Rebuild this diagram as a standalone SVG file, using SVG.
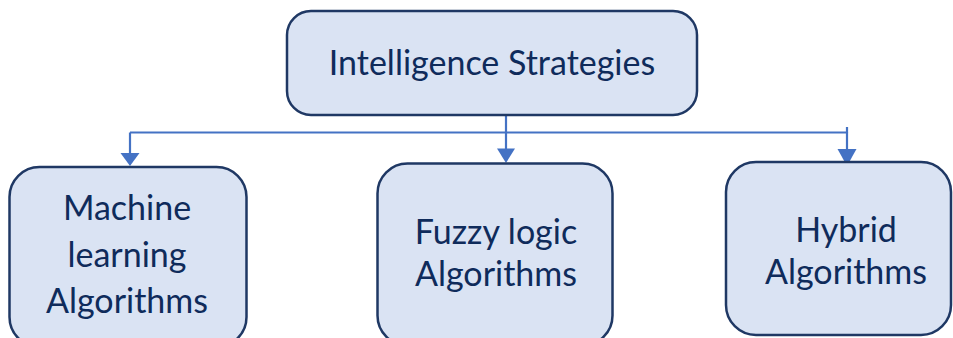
<svg xmlns="http://www.w3.org/2000/svg" width="953" height="338" viewBox="0 0 953 338">
<defs>
<style>
.box{fill:#DAE3F3;stroke:#1F3864;stroke-width:2.5}
.t{font-family:Lato,"Liberation Sans",sans-serif;font-size:34px;fill:#0F2B5B;text-anchor:middle}
.c{fill:none;stroke:#4472C4;stroke-width:2.2}
</style>
</defs>
<rect width="953" height="338" fill="#FFFFFF"/>
<g id="connectors">
<path class="c" d="M506,115 V132.5"/>
<path class="c" d="M130,132.5 H847"/>
<path class="c" d="M847,127 V133"/>
<path class="c" d="M130,132.5 V153"/>
<polygon points="120.5,153 139.5,153 130,166" fill="#4472C4"/>
<path class="c" d="M506,132.5 V149"/>
<polygon points="497,148.5 515,148.5 506,163" fill="#4472C4"/>
<path class="c" d="M847,132.5 V149"/>
<polygon points="837.5,149 856.5,149 847,166" fill="#4472C4"/>
</g>
<g id="node-intelligence">
<rect class="box" x="287" y="11" width="410" height="104" rx="24"/>
<text class="t" x="492" y="75">Intelligence Strategies</text>
</g>
<g id="node-ml">
<rect class="box" x="9.5" y="167" width="237" height="180" rx="30"/>
<text class="t" x="127" y="220">Machine</text>
<text class="t" x="127" y="267">learning</text>
<text class="t" x="127" y="313">Algorithms</text>
</g>
<g id="node-fuzzy">
<rect class="box" x="377.5" y="163.5" width="235" height="182" rx="30"/>
<text class="t" x="496" y="244">Fuzzy logic</text>
<text class="t" x="496" y="286">Algorithms</text>
</g>
<g id="node-hybrid">
<rect class="box" x="726" y="162" width="225" height="173" rx="30"/>
<text class="t" x="846" y="242">Hybrid</text>
<text class="t" x="846" y="284">Algorithms</text>
</g>
</svg>
